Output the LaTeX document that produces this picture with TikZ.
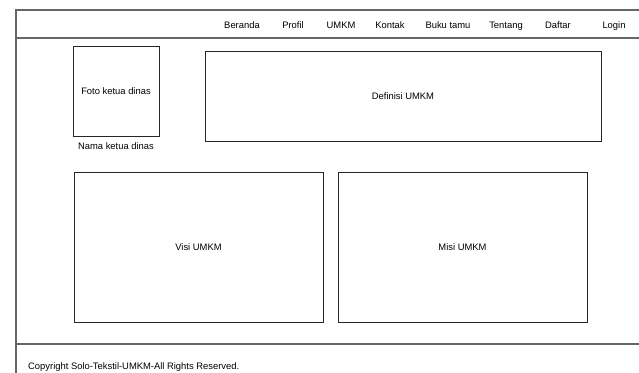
\documentclass[tikz,border=0pt]{standalone}
\usepackage{fontspec}
\setmainfont{Liberation Sans}
\begin{document}
\begin{tikzpicture}[x=1pt,y=-1pt,
  box/.style={draw=black!85, line width=0.8pt, rectangle, inner sep=0pt, outer sep=0pt},
  frameline/.style={draw=black!60, line width=1.2pt},
  lbl/.style={font=\fontsize{9.4}{11}\selectfont, inner sep=0pt, text height=8pt, text depth=1pt},
  nav/.style={lbl}]
\useasboundingbox (0,0) rectangle (639,372);
\begin{scope}
\clip (0,0) rectangle (639,372);
% page frame, header and footer rules
\coordinate (tl) at (16,10);
\coordinate (tr) at (645,10);
\coordinate (bl) at (16,380);
\coordinate (hl) at (16,38);
\coordinate (hr) at (645,38);
\coordinate (fl) at (16,344);
\coordinate (fr) at (645,344);
\draw[frameline] (bl) -- (tl) -- (tr);
\draw[frameline] (hl) -- (hr);
\draw[frameline] (fl) -- (fr);
\end{scope}
% navigation menu
\node[nav] (beranda) at (242,25) {Beranda};
\node[nav] (profil) at (293,25) {Profil};
\node[nav] (umkm) at (341,25) {UMKM};
\node[nav] (kontak) at (390,25) {Kontak};
\node[nav] (buku) at (448,25) {Buku tamu};
\node[nav] (tentang) at (506,25) {Tentang};
\node[nav] (daftar) at (558,25) {Daftar};
\node[nav] (login) at (614,25) {Login};
% content blocks
\node[box, lbl, minimum width=86pt, minimum height=90pt] (foto) at (116,91) {Foto ketua dinas};
\node[lbl] (nama) at (116,146) {Nama ketua dinas};
\node[box, lbl, minimum width=396pt, minimum height=90pt] (definisi) at (403,96) {Definisi UMKM};
\node[box, lbl, minimum width=249pt, minimum height=150pt] (visi) at (198.5,247) {Visi UMKM};
\node[box, lbl, minimum width=249pt, minimum height=150pt] (misi) at (462.5,247) {Misi UMKM};
% footer
\node[lbl, anchor=west] (copy) at (28,366) {Copyright Solo-Tekstil-UMKM-All Rights Reserved.};
\end{tikzpicture}
\end{document}
